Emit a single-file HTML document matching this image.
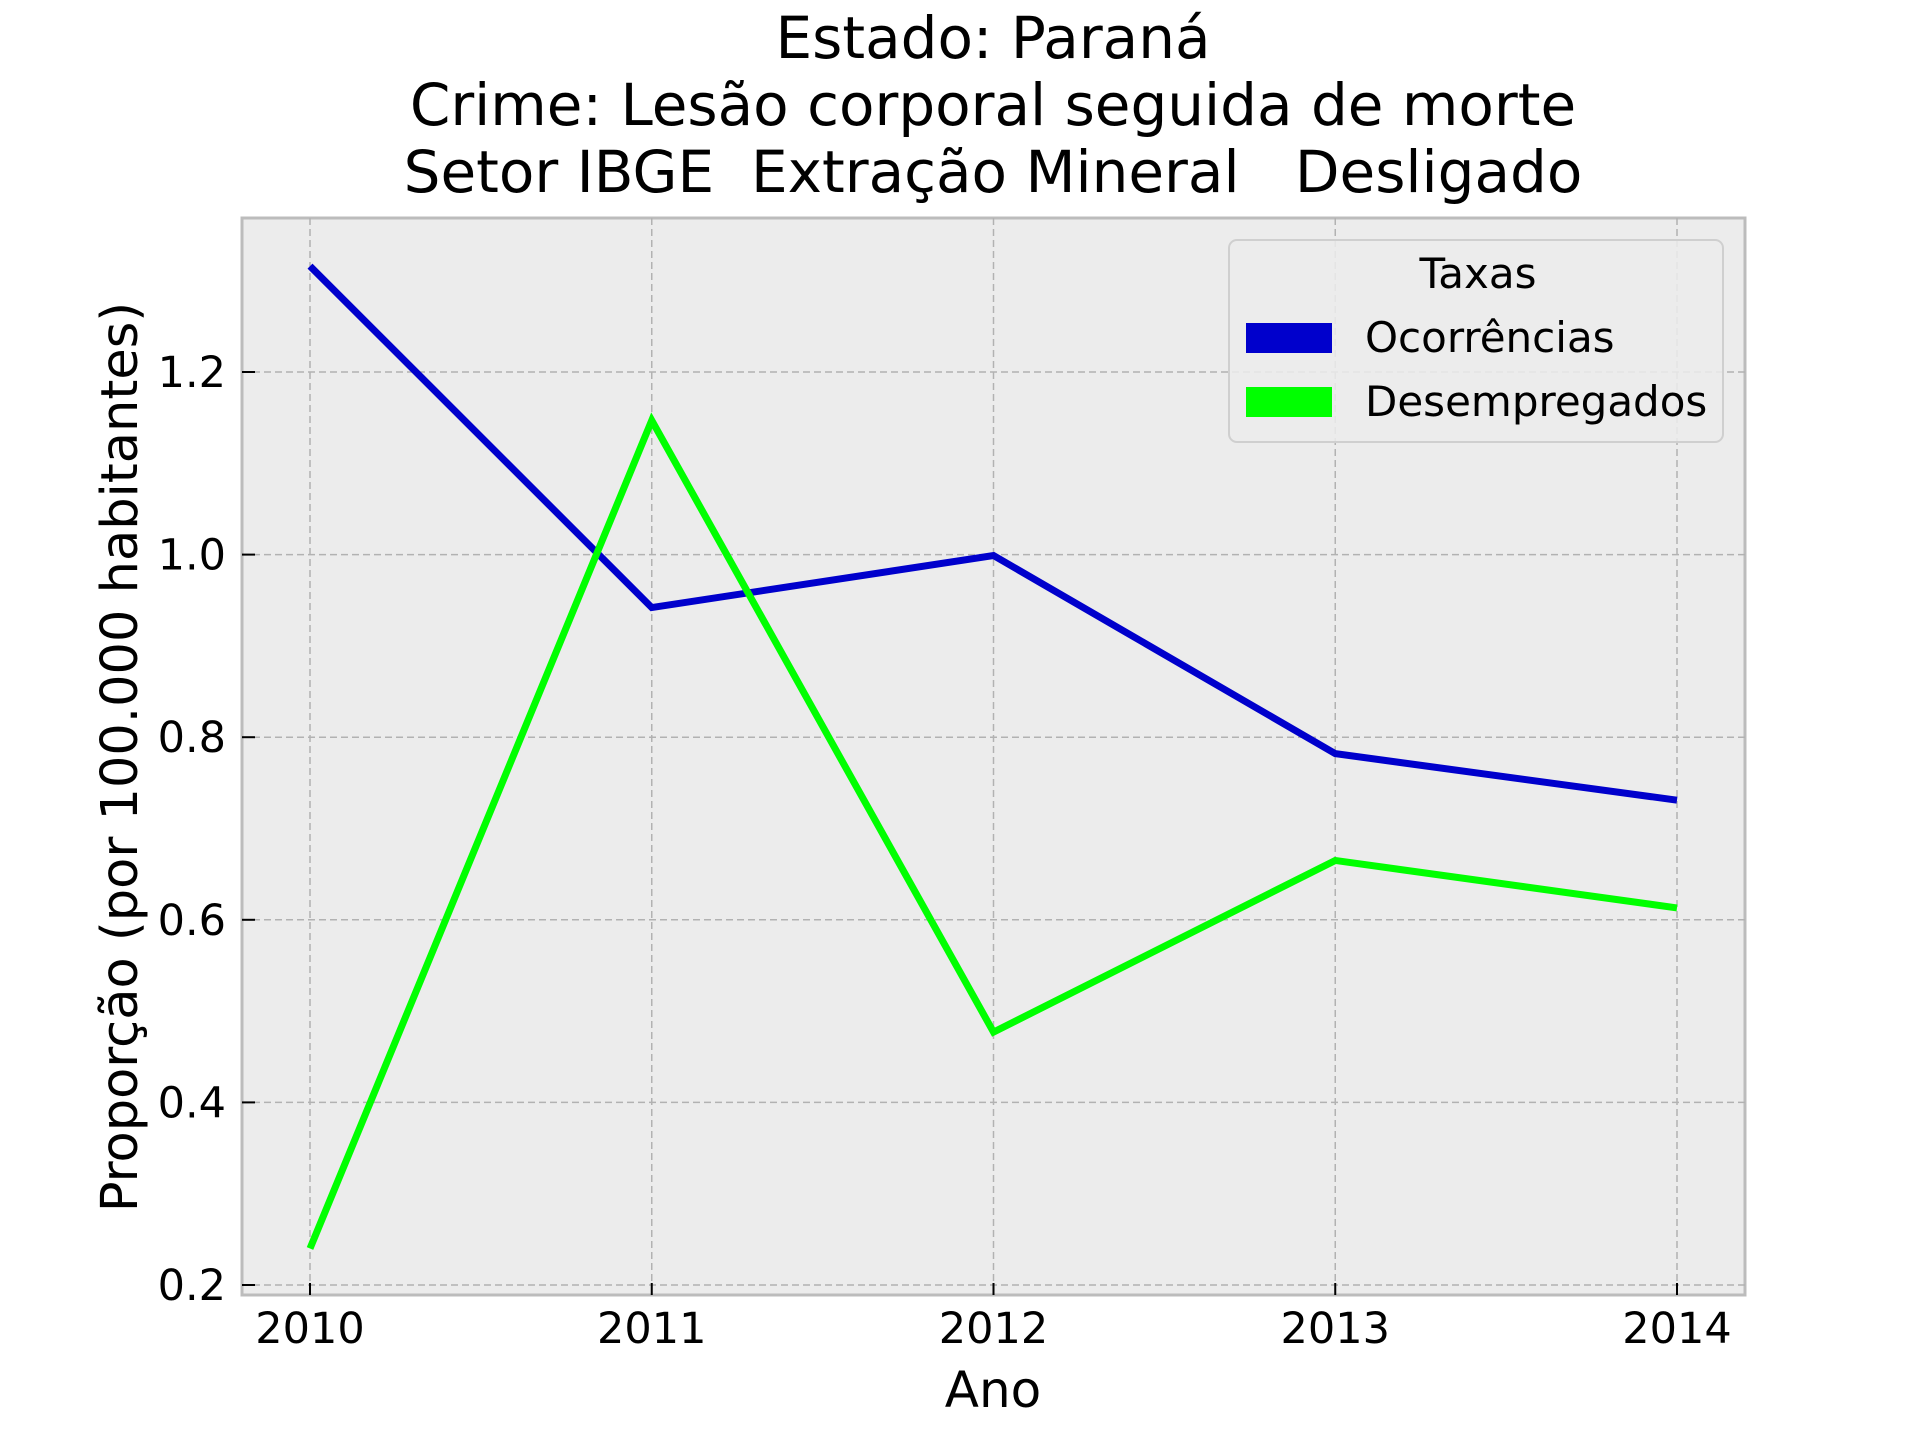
<!DOCTYPE html>
<html><head><meta charset="utf-8"><style>body{margin:0;background:#fff}svg{display:block;font-family:"DejaVu Sans","Liberation Sans",sans-serif}text{white-space:pre}</style></head>
<body>
<svg id="chart" width="1920" height="1440" xmlns="http://www.w3.org/2000/svg">
<g font-size="58" text-anchor="middle" fill="#000">
<text x="993" y="58" xml:space="preserve">Estado: Paraná</text>
<text x="993" y="125" xml:space="preserve">Crime: Lesão corporal seguida de morte</text>
<text x="993" y="192" xml:space="preserve">Setor IBGE  Extração Mineral   Desligado</text>
</g>
<rect x="242" y="218" width="1503" height="1077" fill="#ececec" stroke="#bcbcbc" stroke-width="3"/>
<g id="grid"></g>
<g id="ticks"></g>
<g id="series"></g>
<text x="993" y="1407" font-size="50" text-anchor="middle">Ano</text>
<text transform="translate(137,757) rotate(-90)" font-size="51" text-anchor="middle">Proporção (por 100.000 habitantes)</text>
<g>
<rect x="1229" y="240" width="494" height="202" rx="8" fill="#ececec" fill-opacity="0.85" stroke="#cfcfcf" stroke-width="2"/>
<text x="1478" y="288" font-size="42" text-anchor="middle">Taxas</text>
<rect x="1246" y="323" width="86" height="30" fill="#0000cc"/>
<text x="1365" y="352" font-size="42">Ocorrências</text>
<rect x="1246" y="387" width="86" height="30" fill="#00ff00"/>
<text x="1365" y="416" font-size="42">Desempregados</text>
</g>
</svg>
<script>
const years=[2010,2011,2012,2013,2014];
const ocorrencias=[1.316,0.942,0.999,0.782,0.731];
const desempregados=[0.24,1.147,0.477,0.665,0.613];
const yTicks=[0.2,0.4,0.6,0.8,1.0,1.2];
const yTickLabels=["0.2","0.4","0.6","0.8","1.0","1.2"];
const NS="http://www.w3.org/2000/svg";
const xs=v=>310+(v-2010)*(1677-310)/4;
const ys=v=>1285-(v-0.2)*(1285-372)/1.0;
const grid=document.getElementById('grid'),ticks=document.getElementById('ticks'),ser=document.getElementById('series');
function mk(p,t,a){const e=document.createElementNS(NS,t);for(const k in a)e.setAttribute(k,a[k]);p.appendChild(e);return e;}
years.forEach(y=>{
 const g=mk(grid,'line',{x1:xs(y),x2:xs(y),y1:218,y2:1295,stroke:'#b2b2b2','stroke-width':1.5,'stroke-dasharray':'7,4'});
 
 
 const t=mk(ticks,'line',{x1:xs(y),x2:xs(y),y1:1295,y2:1283,stroke:'#000','stroke-width':2});
 
 
 const l=mk(ticks,'text',{x:xs(y),y:1343,'font-size':43,'text-anchor':'middle'});l.textContent=y;
 
 
});
yTicks.forEach((v,i)=>{
 const g=mk(grid,'line',{x1:242,x2:1745,y1:ys(v),y2:ys(v),stroke:'#b2b2b2','stroke-width':1.5,'stroke-dasharray':'7,4'});
 
 
 const t=mk(ticks,'line',{x1:242,x2:255,y1:ys(v),y2:ys(v),stroke:'#000','stroke-width':2});
 
 
 const l=mk(ticks,'text',{x:226,y:ys(v)+15,'font-size':43,'text-anchor':'end'});l.textContent=yTickLabels[i];
 
 
});
function line(vals,col,name){
 const p=mk(ser,'polyline',{points:vals.map((v,i)=>xs(years[i])+','+ys(v)).join(' '),fill:'none',stroke:col,'stroke-width':7});
 
 
}
line(ocorrencias,'#0000cc','line-ocorrencias');
line(desempregados,'#00ff00','line-desempregados');
</script>
</body></html>
